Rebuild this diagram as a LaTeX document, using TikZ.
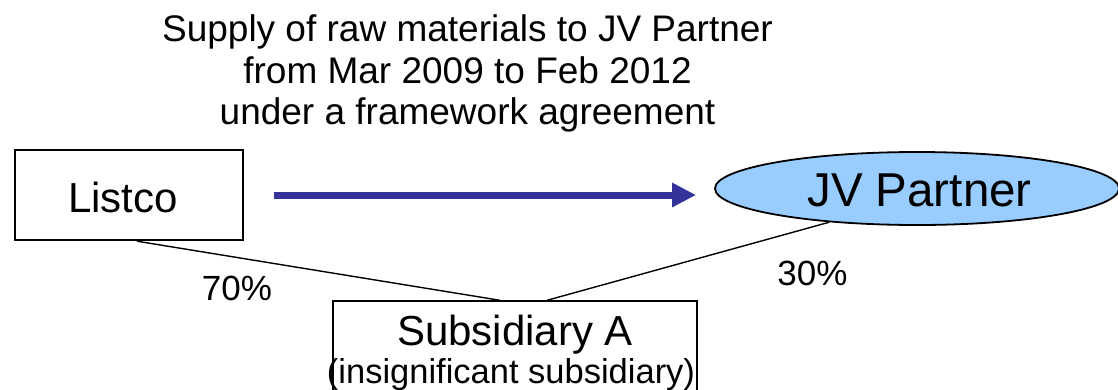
\documentclass[tikz,border=0pt]{standalone}
\usepackage{fontspec}
\setmainfont{Liberation Sans}
\usetikzlibrary{arrows.meta,shapes.geometric}
\definecolor{flowblue}{HTML}{333399}
\definecolor{jvfill}{HTML}{99CCFF}
\tikzset{
  txt/.style={inner sep=0pt, anchor=base},
  entitybox/.style={draw=black, fill=white, inner sep=0pt},
  holding/.style={draw=black, line width=1.4pt},
  flow/.style={draw=flowblue, line width=7pt,
    -{Triangle[length=24pt,width=23pt]}, color=flowblue}
}
\begin{document}
\begin{tikzpicture}[x=1pt,y=-1pt]
\useasboundingbox (0,0) rectangle (1118,389);

% header describing the transaction
\node[txt, font=\fontsize{37}{42}\selectfont] (t1) at (467.5,41.7) {Supply of raw materials to JV Partner};
\node[txt, font=\fontsize{37}{42}\selectfont] (t2) at (467.5,83.2) {from Mar 2009 to Feb 2012};
\node[txt, font=\fontsize{37}{42}\selectfont] (t3) at (467.5,124.7) {under a framework agreement};

% entities
\node[entitybox, line width=2.4pt, minimum width=228pt, minimum height=90pt] (listco) at (129,195) {};
\node[txt, font=\fontsize{42}{48}\selectfont] (listcotxt) at (123,212) {Listco};

\node[entitybox, line width=1.4pt, minimum width=364pt, minimum height=96pt] (sub) at (515,349) {};

% shareholding lines (drawn before the ellipse so it covers their ends)
\draw[holding] ([xshift=8pt]listco.south) -- ([xshift=-15pt]sub.north);

\node[ellipse, draw=black, line width=1.8pt, fill=jvfill, inner sep=0pt,
      minimum width=404pt, minimum height=73pt] (jv) at (917,188.5) {};
\node[txt, font=\fontsize{47.5}{54}\selectfont] (jvtxt) at (919.5,206.7) {JV Partner};

\draw[holding] ([xshift=32pt]sub.north) -- (jv.201);

\node[txt, font=\fontsize{42}{48}\selectfont] (subtxt) at (515,345) {Subsidiary A};
\node[txt, font=\fontsize{34.5}{40}\selectfont] (subnote) at (511,383) {(insignificant subsidiary)};

% supply flow, level with the middle of the Listco box
\draw[flow, shorten <=30pt, shorten >=18pt] (listco.east) -- (listco.east -| jv.west);

% ownership percentages
\node[txt, font=\fontsize{35}{40}\selectfont] (p70) at (237,300) {70\%};
\node[txt, font=\fontsize{35}{40}\selectfont] (p30) at (812.5,285) {30\%};
\end{tikzpicture}
\end{document}
